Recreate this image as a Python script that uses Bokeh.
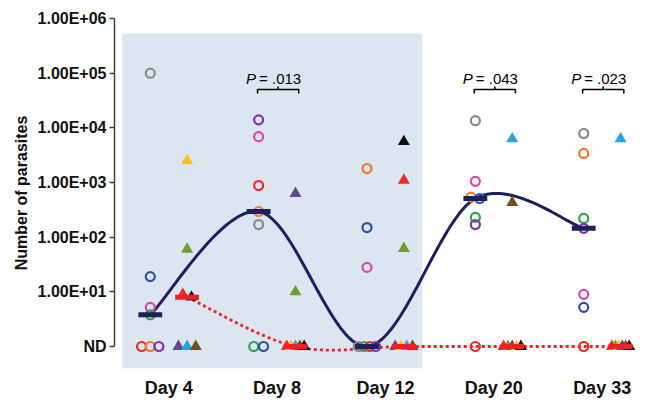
import numpy as np
from bokeh.plotting import figure
from bokeh.models import BoxAnnotation, FixedTicker, CustomJSTickFormatter, Range1d
from bokeh.core.properties import value
from bokeh.embed import file_html
from bokeh.resources import INLINE

# ---------------- data ----------------
days = ["Day 4", "Day 8", "Day 12", "Day 20", "Day 33"]
ND = 1  # "not detected" plotted at the bottom level

# open circles group
circle_values = [
    [100000, 19, 5.2, 3.8, ND, ND, ND],
    [14000, 6900, 880, 295, 170, ND, ND],
    [1800, 150, 28, ND, ND, ND, ND],
    [13500, 1050, 540, 510, 230, 170, ND],
    [7900, 3400, 220, 145, 9, 5.2, ND],
]
circle_colors = [
    ["gray", "blue", "pink", "green", "red", "orange", "purple"],
    ["purple", "pink", "red", "orange", "gray", "green", "blue"],
    ["orange", "blue", "pink", "gray", "green", "red", "purple"],
    ["gray", "pink", "orange", "blue", "green", "purple", "red"],
    ["gray", "orange", "green", "purple", "pink", "blue", "red"],
]
# filled triangles group
triangle_values = [
    [2500, 60, 9, 8, ND, ND, ND],
    [630, 10, ND, ND, ND, ND, ND],
    [5600, 1100, 62, ND, ND, ND, ND],
    [6300, 430, ND, ND, ND, ND, ND],
    [6300, ND, ND, ND, ND, ND, ND],
]
triangle_colors = [
    ["yellow", "olive", "red", "black", "tpurple", "sky", "brown"],
    ["tpurple", "olive", "red", "yellow", "sky", "brown", "black"],
    ["black", "red", "olive", "tpurple", "yellow", "sky", "brown"],
    ["sky", "brown", "red", "olive", "tpurple", "yellow", "black"],
    ["sky", "red", "olive", "yellow", "tpurple", "brown", "black"],
]
p_days = [1, 3, 4]
p_values = [".013", ".043", ".023"]
y_ticks = [1, 10, 100, 1000, 10000, 100000, 1000000]

palette = {
    "red": "#ee2a24", "orange": "#f07a28", "purple": "#7b35a8", "blue": "#2f4ea8",
    "pink": "#d647a8", "green": "#2ea44a", "gray": "#8a8a8a",
    "yellow": "#fdbf12", "olive": "#6f9a35", "sky": "#1ea7e1", "brown": "#7a4a20",
    "tpurple": "#5e4a86", "black": "#111111",
}
NAVY = "#1d1f5f"
RED = "#f02020"

# ---------------- layout constants ----------------
CIRC_OFF, TRI_OFF = -0.17, 0.17
FONT = "Liberation Sans"


def offsets(vals):
    vals = list(vals)
    logs = np.log10(vals)
    nd_idx = [i for i, v in enumerate(vals) if v == ND]
    n = len(nd_idx)
    step = min(0.09, 0.16 / (n - 1)) if n > 1 else 0.0
    out = []
    for i, v in enumerate(vals):
        if v == ND:
            k = nd_idx.index(i)
            out.append((k - (n - 1) / 2) * step)
        else:
            before = any(vals[j] != ND and abs(logs[j] - logs[i]) < 0.12 for j in range(i))
            after = any(vals[j] != ND and abs(logs[j] - logs[i]) < 0.12 for j in range(i + 1, len(vals)))
            out.append(0.04 if before else (-0.04 if after else 0.0))
    return out


def smooth(xs, ys, n=40):
    P = np.column_stack([np.asarray(xs, float), np.asarray(ys, float)])
    E = np.vstack([P[0], P, P[-1]])
    t = np.linspace(0, 1, n)[:, None]
    segs = []
    for i in range(len(P) - 1):
        p0, p1, p2, p3 = E[i], E[i + 1], E[i + 2], E[i + 3]
        c1 = p1 + (p2 - p0) / 6
        c2 = p2 - (p3 - p1) / 6
        seg = (1 - t) ** 3 * p1 + 3 * (1 - t) ** 2 * t * c1 + 3 * (1 - t) * t ** 2 * c2 + t ** 3 * p2
        segs.append(seg if i == 0 else seg[1:])
    return np.vstack(segs)


p = figure(width=645, height=402, y_axis_type="log",
           x_range=Range1d(-0.5, 4.40), y_range=Range1d(10 ** -0.4756, 10 ** 6.0915),
           output_backend="svg", toolbar_location=None,
           min_border_left=114, min_border_right=0, min_border_top=13, min_border_bottom=30,
           background_fill_color="white", border_fill_color="white")
p.outline_line_color = None
p.grid.visible = False

# shaded region (Day 4 - Day 12)
p.add_layout(BoxAnnotation(left=-0.43, right=2.34, top=10 ** 5.725, bottom=10 ** -0.40,
                           fill_color="#dce6f1", fill_alpha=1.0, line_color=None, level="underlay"))

# median curves
c_med = [float(np.median(v)) for v in circle_values]
t_med = [float(np.median(v)) for v in triangle_values]
cx = [i + CIRC_OFF for i in range(len(days))]
tx = [i + TRI_OFF for i in range(len(days))]
nc = smooth(cx, np.log10(c_med))
p.line(nc[:, 0], 10 ** nc[:, 1], line_color=NAVY, line_width=3)
rc = smooth(tx, np.log10(t_med))
p.line(rc[:, 0], 10 ** rc[:, 1], line_color=RED, line_width=2.8, line_dash="3 3")

# markers
xs, ys, cs = [], [], []
for i, (vals, cols) in enumerate(zip(circle_values, circle_colors)):
    for o, v, c in zip(offsets(vals), vals, cols):
        xs.append(i + CIRC_OFF + o); ys.append(v); cs.append(palette[c])
p.scatter(xs, ys, marker="circle", size=9, fill_color=None, line_color=cs, line_width=2.2)

xs, ys, cs = [], [], []
for i, (vals, cols) in enumerate(zip(triangle_values, triangle_colors)):
    for o, v, c in zip(offsets(vals), vals, cols):
        xs.append(i + TRI_OFF + o); ys.append(v); cs.append(palette[c])
p.scatter(xs, ys, marker="triangle", size=12, fill_color=cs, line_color=None)

# median bars
p.segment([x - 0.11 for x in cx], c_med, [x + 0.11 for x in cx], c_med,
          line_color=NAVY, line_width=5)
p.segment([x - 0.11 for x in tx], t_med, [x + 0.11 for x in tx], t_med,
          line_color=RED, line_width=5)

# P-value annotations
bx, by = [], []
for d in p_days:
    l, r, m = d - 0.18, d + 0.2, d + 0.01
    y0, yd, yu = 10 ** 4.70, 10 ** 4.63, 10 ** 4.755
    bx += [[l, l, r, r], [m, m]]
    by += [[yd, y0, y0, yd], [y0, yu]]
p.multi_line(bx, by, line_color="black", line_width=1.5)
ty = [10 ** 4.90] * len(p_days)
p.text(p_days, ty, text=["P"] * len(p_days), text_font=value(FONT), text_font_style="italic",
       text_font_size="15px", text_align="left", text_baseline="alphabetic", x_offset=-31,
       text_color="black")
p.text(p_days, ty, text=["= " + s for s in p_values], text_font=value(FONT),
       text_font_size="15px", text_align="left", text_baseline="alphabetic", x_offset=-18,
       text_color="black")

# axes
p.yaxis.ticker = FixedTicker(ticks=y_ticks)
p.yaxis.formatter = CustomJSTickFormatter(code="""
if (tick < 2) return "ND";
const e = Math.round(Math.log10(tick));
return "1.00E+" + (e < 10 ? "0" : "") + e;
""")
p.yaxis.bounds = (1, 1e6)
p.yaxis.axis_line_color = "#404040"
p.yaxis.axis_line_width = 1.5
p.yaxis.major_tick_line_color = "#404040"
p.yaxis.major_tick_line_width = 1.5
p.yaxis.major_tick_out = 5
p.yaxis.major_tick_in = 0
p.yaxis.minor_tick_line_color = None
p.yaxis.major_label_text_font = FONT
p.yaxis.major_label_text_font_style = "bold"
p.yaxis.major_label_text_font_size = "16px"
p.yaxis.major_label_text_color = "#111111"
p.yaxis.major_label_standoff = 3
p.yaxis.axis_label = "Number of parasites"
p.yaxis.axis_label_text_font = FONT
p.yaxis.axis_label_text_font_style = "bold"
p.yaxis.axis_label_text_font_size = "16px"
p.yaxis.axis_label_text_color = "#111111"
p.yaxis.axis_label_standoff = 5

p.xaxis.ticker = FixedTicker(ticks=list(range(len(days))))
p.xaxis.major_label_overrides = {i: d for i, d in enumerate(days)}
p.xaxis.axis_line_color = None
p.xaxis.major_tick_line_color = None
p.xaxis.major_tick_out = 0
p.xaxis.major_tick_in = 0
p.xaxis.minor_tick_line_color = None
p.xaxis.major_label_text_font = FONT
p.xaxis.major_label_text_font_style = "bold"
p.xaxis.major_label_text_font_size = "18px"
p.xaxis.major_label_text_color = "#111111"
p.xaxis.major_label_standoff = 5

open("out.html", "w").write(file_html(p, INLINE))
